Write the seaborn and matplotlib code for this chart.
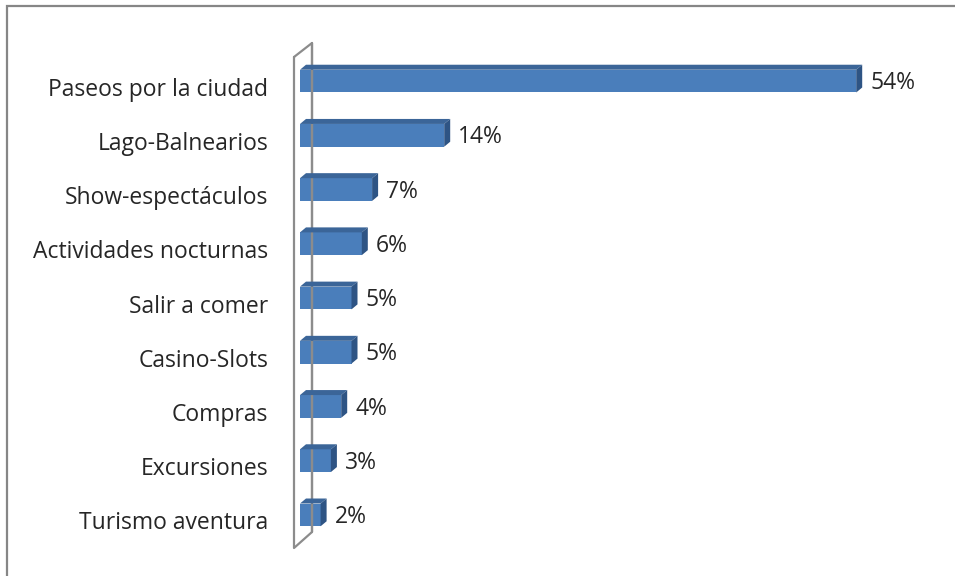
import matplotlib
matplotlib.use("Agg")
import matplotlib.pyplot as plt
import seaborn as sns
import pandas as pd
from matplotlib.patches import Polygon, Rectangle
from matplotlib.lines import Line2D
from matplotlib.transforms import IdentityTransform, ScaledTranslation

categories = [
    "Paseos por la ciudad",
    "Lago-Balnearios",
    "Show-espectáculos",
    "Actividades nocturnas",
    "Salir a comer",
    "Casino-Slots",
    "Compras",
    "Excursiones",
    "Turismo aventura",
]
values = [54, 14, 7, 6, 5, 5, 4, 3, 2]
value_labels = ["54%", "14%", "7%", "6%", "5%", "5%", "4%", "3%", "2%"]

df = pd.DataFrame({"actividad": categories, "porcentaje": values})

sns.set_theme(style="white")
plt.rcParams["font.family"] = ["Open Sans", "DejaVu Sans"]

W, H = 955, 576
fig = plt.figure(figsize=(W / 100, H / 100), dpi=100)

# chart frame
fig.patches.append(Rectangle((7 / W, -0.01), 1.1, (H - 6) / H + 0.01,
                             transform=fig.transFigure, fill=False,
                             edgecolor="#868686", linewidth=1.6))

ax = fig.add_axes([300 / W, 34 / H, 618 / W, 488 / H])
ax.patch.set_alpha(0)

front = "#4A7EBB"
top_c = "#3B6598"
side_c = "#2E5484"
text_c = "#262626"
fs = 16.5

sns.barplot(data=df, y="actividad", x="porcentaje", orient="h",
            color=front, saturation=1, width=0.42, linewidth=0,
            ax=ax, zorder=3)
ax.set_xlim(0, 60)
ax.set_ylim(len(categories) - 0.5, -0.5)

# back wall drawn as an outlined slab in figure pixels
def fp(x, y):
    return (x / W, 1 - y / H)

wall = [fp(294, 57), fp(312, 43), fp(312, 532), fp(294, 548), fp(294, 57)]
fig.lines.append(Line2D([p[0] for p in wall], [p[1] for p in wall],
                        transform=fig.transFigure, color="#8C8C8C",
                        linewidth=1.6, zorder=1))
fig.lines.append(Line2D([wall[1][0], wall[2][0]], [wall[1][1], wall[2][1]],
                        transform=fig.transFigure, color="#8C8C8C",
                        linewidth=1.6, zorder=1))

fig.canvas.draw()
dx, dy = 6, 5
for patch, lab in zip(ax.patches, value_labels):
    x0, y0 = patch.get_x(), patch.get_y()
    x1, y1 = x0 + patch.get_width(), y0 + patch.get_height()
    (px0, pyb), (px1, pyt) = ax.transData.transform([(x0, y1), (x1, y0)])
    topf = Polygon([(px0, pyt), (px1, pyt), (px1 + dx, pyt + dy), (px0 + dx, pyt + dy)],
                   closed=True, transform=IdentityTransform(), facecolor=top_c,
                   edgecolor="none", zorder=4)
    sidef = Polygon([(px1, pyt), (px1, pyb), (px1 + dx, pyb + dy), (px1 + dx, pyt + dy)],
                    closed=True, transform=IdentityTransform(), facecolor=side_c,
                    edgecolor="none", zorder=4)
    fig.patches.append(topf)
    fig.patches.append(sidef)
    ax.annotate(lab, xy=(x1, (y0 + y1) / 2), xytext=(10, -1.5),
                textcoords="offset points", va="center", ha="left",
                fontsize=fs, color=text_c)

ax.set_xlabel("")
ax.set_ylabel("")
ax.set_xticks([])
ax.tick_params(axis="y", length=0, pad=23, labelsize=fs, labelcolor=text_c)
shift = ScaledTranslation(0, -4 / 72, fig.dpi_scale_trans)
for t in ax.get_yticklabels():
    t.set_transform(t.get_transform() + shift)
for s in ax.spines.values():
    s.set_visible(False)

fig.savefig("out.png", dpi=100)
